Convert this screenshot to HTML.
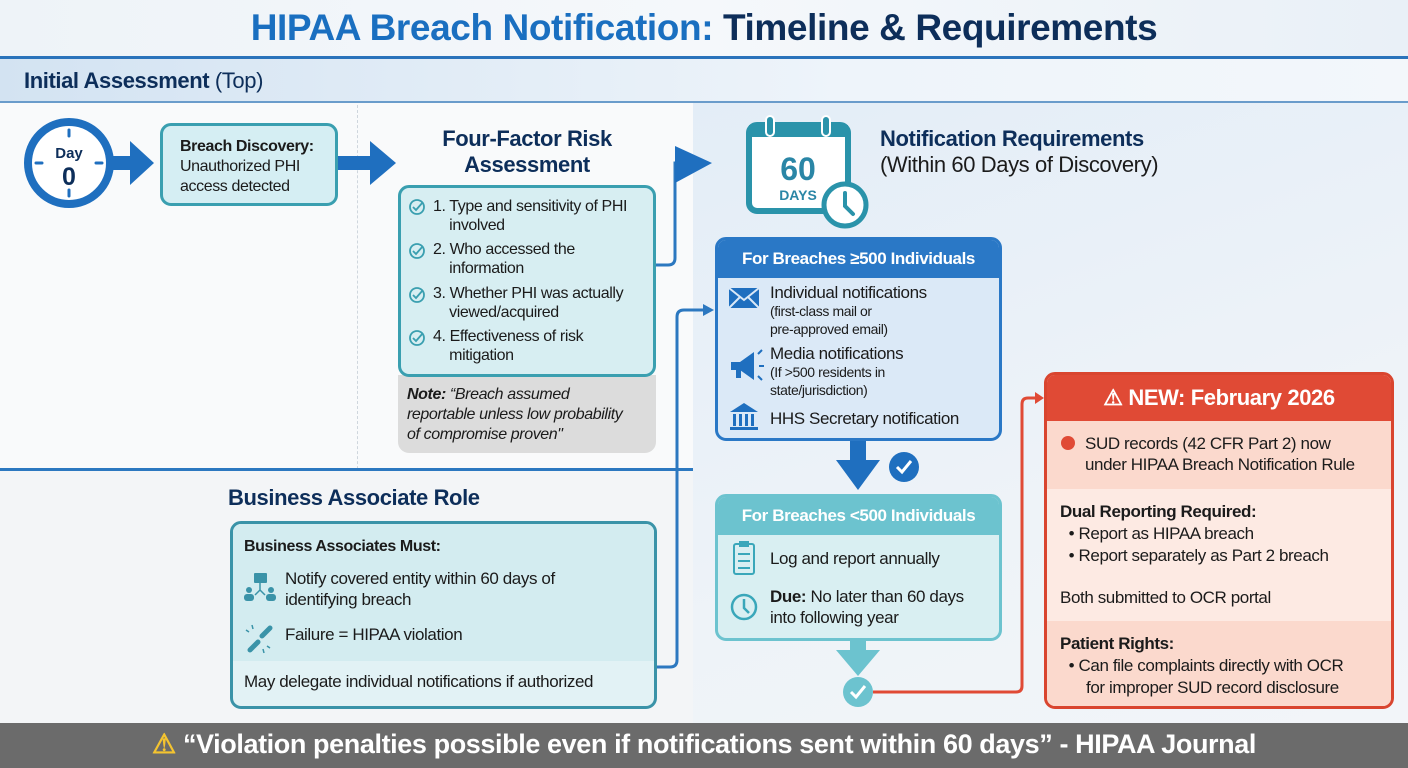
<!DOCTYPE html>
<html><head><meta charset="utf-8"><style>
*{margin:0;padding:0;box-sizing:border-box}
body{width:1408px;height:768px;position:relative;overflow:hidden;font-family:"Liberation Sans",sans-serif;background:#f8fafc;color:#1b1b1b}
.a{position:absolute}
.t{letter-spacing:-0.4px}
.box{position:absolute;border-radius:11px}
.li{position:absolute;font-size:16px;line-height:19px;letter-spacing:-0.4px}
</style></head><body>
<div class="a" style="left:0;top:0;width:1408px;height:57px;background:linear-gradient(90deg,#eef3f8,#f5f8fb 50%,#e9f0f7)"></div>
<div class="a" style="left:0;top:56px;width:1408px;height:3px;background:#2a73bb"></div>
<div class="a" style="left:0;top:59px;width:1408px;height:43px;background:linear-gradient(90deg,#d3e3f2,#eef4fa 60%,#f3f7fb)"></div>
<div class="a" style="left:0;top:101px;width:1408px;height:2px;background:#6a9ccb"></div>
<div class="a" style="left:0;top:103px;width:693px;height:620px;background:#f9fafb"></div>
<div class="a" style="left:693px;top:103px;width:715px;height:620px;background:linear-gradient(160deg,#e3edf7,#eef3f8 60%,#f2f5f9)"></div>
<div class="a" style="left:357px;top:105px;width:0;height:615px;border-left:1px dashed #cfd6dd"></div>
<div class="a" style="left:0;top:468px;width:693px;height:3px;background:#2c78c0"></div>
<div class="a" style="left:0;top:471px;width:693px;height:252px;background:#f3f5f7"></div>

<div class="a t" style="left:0;top:7px;width:1408px;text-align:center;font-size:37px;font-weight:bold;color:#0d2e5a"><span style="color:#1a6fc0">HIPAA Breach Notification:</span> Timeline &amp; Requirements</div>
<div class="a t" style="left:24px;top:68px;font-size:22px;color:#0d2e5a"><b>Initial Assessment</b> (Top)</div>

<svg class="a" style="left:0;top:0" width="1408" height="768">
 <circle cx="69" cy="163" r="41" fill="#fff" stroke="#1f6fbf" stroke-width="8"/>
 <g stroke="#1f6fbf" stroke-width="3" stroke-linecap="round">
 <line x1="69" y1="130" x2="69" y2="136"/><line x1="69" y1="190" x2="69" y2="196"/><line x1="36" y1="163" x2="42" y2="163"/><line x1="96" y1="163" x2="102" y2="163"/>
 </g>
 <text x="69" y="158" text-anchor="middle" font-size="15" font-weight="bold" fill="#0d2e5a" font-family="Liberation Sans">Day</text>
 <text x="69" y="185" text-anchor="middle" font-size="25" font-weight="bold" fill="#0d2e5a" font-family="Liberation Sans">0</text>
 <polygon points="112,156 130,156 130,141 154,163 130,185 130,170 112,170" fill="#1f6fbf"/>
 <polygon points="338,156 370,156 370,141 396,163 370,185 370,170 338,170" fill="#1f6fbf"/>
 <path d="M656,265 H668 Q675,265 675,258 V163 H690" fill="none" stroke="#2c78c0" stroke-width="3"/>
 <polygon points="675,146 712,163 675,183" fill="#1f6fbf"/>
 <path d="M656,667 H670 Q677,667 677,660 V317 Q677,310 684,310 H706" fill="none" stroke="#2c78c0" stroke-width="3"/>
 <polygon points="703,304 714,310 703,316" fill="#2c78c0"/>
 <rect x="749" y="125" width="99" height="86" rx="8" fill="#fff" stroke="#2a93aa" stroke-width="6"/>
 <rect x="749" y="125" width="99" height="12" fill="#2a93aa"/>
 <rect x="766" y="116" width="8" height="20" rx="4" fill="#2a93aa" stroke="#fff" stroke-width="2"/>
 <rect x="822" y="116" width="8" height="20" rx="4" fill="#2a93aa" stroke="#fff" stroke-width="2"/>
 <text x="798" y="180" text-anchor="middle" font-size="32" font-weight="bold" fill="#2a86a6" font-family="Liberation Sans">60</text>
 <text x="798" y="200" text-anchor="middle" font-size="14" font-weight="bold" fill="#2a86a6" font-family="Liberation Sans">DAYS</text>
 <circle cx="845" cy="205" r="21" fill="#fff" stroke="#2a93aa" stroke-width="5"/>
 <path d="M845,193 V206 L853,214" fill="none" stroke="#2a93aa" stroke-width="4" stroke-linecap="round"/>
 <rect x="850" y="440" width="16" height="22" fill="#1f6fbf"/>
 <polygon points="836,460 880,460 858,490" fill="#1f6fbf"/>
 <circle cx="904" cy="467" r="15" fill="#1f6fbf"/>
 <path d="M897,467 L902,472 L911,461" fill="none" stroke="#fff" stroke-width="3"/>
 <rect x="850" y="640" width="16" height="12" fill="#6cc3cf"/>
 <polygon points="836,650 880,650 858,676" fill="#6cc3cf"/>
 <circle cx="858" cy="692" r="15" fill="#6cc3cf"/>
 <path d="M851,692 L856,697 L865,686" fill="none" stroke="#fff" stroke-width="3"/>
 <path d="M873,692 H1016 Q1022,692 1022,686 V404 Q1022,398 1028,398 H1038" fill="none" stroke="#e04a35" stroke-width="3"/>
 <polygon points="1035,392 1044,398 1035,404" fill="#e04a35"/>
</svg>

<div class="box" style="left:160px;top:123px;width:178px;height:83px;background:#d5eef3;border:3px solid #3a9fb0;padding:11px 0 0 17px;font-size:16px;line-height:20px" ><div class="t"><b>Breach Discovery:</b><br>Unauthorized PHI<br>access detected</div></div>

<div class="a t" style="left:398px;top:126px;width:258px;text-align:center;font-size:22px;line-height:26px;font-weight:bold;color:#0d2e5a">Four-Factor Risk<br>Assessment</div>
<div class="box" style="left:398px;top:375px;width:258px;height:78px;background:#dcdcdc;border-radius:0 0 11px 11px;padding:10px 0 0 9px;font-size:16px;line-height:20px;font-style:italic" ><div class="t"><b>Note:</b> “Breach assumed<br>reportable unless low probability<br>of compromise proven"</div></div>
<div class="box" style="left:398px;top:185px;width:258px;height:192px;background:#d7eef2;border:3px solid #3a9fb0"></div>
<svg class="a" style="left:407px;top:196px" width="22" height="170">
 <g fill="none" stroke="#3a9fb0" stroke-width="1.8"><circle cx="10" cy="11" r="7"/><path d="M6,11 l3,3 l7,-8"/>
 <circle cx="10" cy="55" r="7"/><path d="M6,55 l3,3 l7,-8"/>
 <circle cx="10" cy="99" r="7"/><path d="M6,99 l3,3 l7,-8"/>
 <circle cx="10" cy="142" r="7"/><path d="M6,142 l3,3 l7,-8"/></g>
</svg>
<div class="li" style="left:433px;top:197px;width:220px">1. Type and sensitivity of PHI<br>&nbsp;&nbsp;&nbsp;&nbsp;involved</div>
<div class="li" style="left:433px;top:240px;width:220px">2. Who accessed the<br>&nbsp;&nbsp;&nbsp;&nbsp;information</div>
<div class="li" style="left:433px;top:284px;width:220px">3. Whether PHI was actually<br>&nbsp;&nbsp;&nbsp;&nbsp;viewed/acquired</div>
<div class="li" style="left:433px;top:327px;width:220px">4. Effectiveness of risk<br>&nbsp;&nbsp;&nbsp;&nbsp;mitigation</div>

<div class="a t" style="left:880px;top:126px;font-size:22px;line-height:26px;color:#0d2e5a"><b>Notification Requirements</b><br><span style="color:#1b1b1b">(Within 60 Days of Discovery)</span></div>

<div class="box" style="left:715px;top:237px;width:287px;height:204px;background:#dbe9f7;border:3px solid #2a78c6;overflow:hidden">
 <div style="height:38px;background:#2a78c6;color:#fff;font-weight:bold;font-size:17px;text-align:center;line-height:38px" class="t">For Breaches ≥500 Individuals</div>
</div>
<svg class="a" style="left:726px;top:282px" width="40" height="150">
 <rect x="3" y="6" width="30" height="20" fill="#1f6fbf"/><path d="M3,6 L18,18 L33,6 M3,26 L14,15 M33,26 L22,15" stroke="#dbe9f7" stroke-width="2" fill="none"/>
 <polygon points="5,80 14,80 28,70 28,98 14,88 5,88" fill="#1f6fbf"/><rect x="10" y="88" width="5" height="8" fill="#1f6fbf"/>
 <path d="M32,72 l4,-4 M33,84 h5 M32,94 l4,4" stroke="#1f6fbf" stroke-width="2"/>
 <polygon points="4,130 18,121 32,130" fill="#1f6fbf"/><g fill="#1f6fbf"><rect x="7" y="132" width="3" height="12"/><rect x="13" y="132" width="3" height="12"/><rect x="19" y="132" width="3" height="12"/><rect x="25" y="132" width="3" height="12"/><rect x="4" y="145" width="28" height="3"/></g>
</svg>
<div class="a t" style="left:770px;top:284px;font-size:17px;line-height:18px">Individual notifications<br><span style="font-size:14px;line-height:17px">(first-class mail or<br>pre-approved email)</span></div>
<div class="a t" style="left:770px;top:345px;font-size:17px;line-height:18px">Media notifications<br><span style="font-size:14px;line-height:17px">(If &gt;500 residents in<br>state/jurisdiction)</span></div>
<div class="a t" style="left:770px;top:409px;font-size:17px">HHS Secretary notification</div>

<div class="box" style="left:715px;top:494px;width:287px;height:147px;background:#d9eff2;border:3px solid #6cc3cf;overflow:hidden">
 <div style="height:38px;background:#6cc3cf;color:#fff;font-weight:bold;font-size:17px;text-align:center;line-height:38px" class="t">For Breaches &lt;500 Individuals</div>
</div>
<svg class="a" style="left:728px;top:540px" width="34" height="85">
 <rect x="6" y="4" width="20" height="30" rx="2" fill="none" stroke="#3aa7ba" stroke-width="2"/><rect x="11" y="1" width="10" height="6" fill="#3aa7ba"/>
 <path d="M10,14 h12 M10,21 h12 M10,28 h12" stroke="#3aa7ba" stroke-width="2"/>
 <circle cx="16" cy="67" r="12" fill="none" stroke="#3aa7ba" stroke-width="2.5"/><path d="M16,59 V68 L21,73" stroke="#3aa7ba" stroke-width="2.5" fill="none"/>
</svg>
<div class="a t" style="left:770px;top:549px;font-size:17px">Log and report annually</div>
<div class="a t" style="left:770px;top:586px;font-size:17px;line-height:21px"><b>Due:</b> No later than 60 days<br>into following year</div>

<div class="box" style="left:1044px;top:372px;width:350px;height:337px;border:3px solid #d9452f;overflow:hidden;background:#fdeae3">
 <div style="height:46px;background:#e04a35;color:#fff;font-weight:bold;font-size:22px;text-align:center;line-height:46px" class="t">⚠ NEW: February 2026</div>
 <div style="height:68px;background:#fbd9cd;padding:12px 0 0 14px;font-size:17px;line-height:21px" class="t"><span style="display:inline-block;width:14px;height:14px;border-radius:50%;background:#e04a35;vertical-align:-1px;margin-right:10px"></span>SUD records (42 CFR Part 2) now<br><span style="padding-left:24px">under HIPAA Breach Notification Rule</span></div>
 <div style="height:132px;padding:12px 0 0 13px;font-size:17px;line-height:22px" class="t"><b>Dual Reporting Required:</b><br>&nbsp;&nbsp;• Report as HIPAA breach<br>&nbsp;&nbsp;• Report separately as Part 2 breach<div style="margin-top:20px">Both submitted to OCR portal</div></div>
 <div style="height:90px;background:#fbd9cd;padding:12px 0 0 13px;font-size:17px;line-height:22px" class="t"><b>Patient Rights:</b><br>&nbsp;&nbsp;• Can file complaints directly with OCR<br><span style="padding-left:26px">for improper SUD record disclosure</span></div>
</div>

<div class="a t" style="left:228px;top:485px;font-size:22px;font-weight:bold;color:#0d2e5a">Business Associate Role</div>
<div class="box" style="left:230px;top:521px;width:427px;height:188px;border:3px solid #3a93a8;overflow:hidden;background:#e2f2f5">
 <div style="height:137px;background:#d3ecf0;padding:14px 0 0 11px" class="t"><b style="font-size:16px">Business Associates Must:</b></div>
 <div style="padding:11px 0 0 11px;font-size:17px" class="t">May delegate individual notifications if authorized</div>
</div>
<svg class="a" style="left:242px;top:570px" width="36" height="85">
 <g fill="#3a93a8"><rect x="12" y="3" width="13" height="10" rx="1"/><circle cx="7" cy="20" r="3"/><circle cx="29" cy="20" r="3"/><rect x="2" y="24" width="10" height="7" rx="3"/><rect x="24" y="24" width="10" height="7" rx="3"/></g>
 <path d="M18,13 V20 L13,25 M18,20 L23,25" stroke="#3a93a8" stroke-width="1.5" fill="none"/>
 <path d="M8,80 l8,-8 M20,66 l8,-8" stroke="#3a93a8" stroke-width="5" stroke-linecap="round"/>
 <path d="M4,60 l3,2 M10,55 l1,4 M28,78 l-3,-2 M22,83 l-1,-4" stroke="#3a93a8" stroke-width="1.5"/>
</svg>
<div class="a t" style="left:285px;top:568px;font-size:17px;line-height:21px">Notify covered entity within 60 days of<br>identifying breach</div>
<div class="a t" style="left:285px;top:625px;font-size:17px">Failure = HIPAA violation</div>

<div class="a" style="left:0;top:723px;width:1408px;height:45px;background:#6b6b6b"></div>
<div class="a t" style="left:0;top:729px;width:1408px;text-align:center;font-size:27px;font-weight:bold;color:#fff"><span style="color:#f4c430">⚠</span> “Violation penalties possible even if notifications sent within 60 days” - HIPAA Journal</div>
</body></html>
